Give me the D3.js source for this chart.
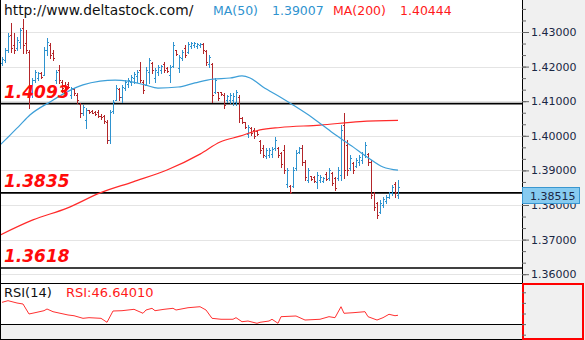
<!DOCTYPE html>
<html>
<head>
<meta charset="utf-8">
<script src="https://cdn.jsdelivr.net/npm/d3@7"></script>
<style>
  html, body { margin: 0; padding: 0; background: #fff; }
  svg { display: block; }
</style>
</head>
<body>
<svg id="chart" width="585" height="340"></svg>
<script>
// ---- Price bars (OHLC), oldest first ----
const opens = [
  1.4210,1.4219,1.4248,1.4291,1.4262,1.4254,1.4271,1.4312,1.4268,1.4242,
  1.4127,1.4161,1.4167,1.4182,1.4176,1.4248,1.4262,1.4239,1.4161,1.4190,
  1.4156,1.4147,1.4150,1.4118,1.4135,1.4118,1.4092,1.4066,1.4046,1.4075,
  1.4072,1.4069,1.4069,1.4057,1.4057,1.4040,1.3988,1.4072,1.4103,1.4135,
  1.4112,1.4138,1.4150,1.4156,1.4167,1.4173,1.4190,1.4156,1.4147,1.4184,
  1.4210,1.4167,1.4184,1.4190,1.4208,1.4196,1.4176,1.4202,1.4248,1.4196,
  1.4225,1.4254,1.4242,1.4260,1.4262,1.4260,1.4262,1.4265,1.4245,1.4208,
  1.4208,1.4127,1.4127,1.4127,1.4118,1.4103,1.4103,1.4103,1.4098,1.4112,
  1.4051,1.4040,1.4005,1.4023,1.4017,1.4014,1.3985,1.3965,1.3942,1.3945,
  1.3947,1.3965,1.3965,1.3950,1.3959,1.3861,1.3855,1.3855,1.3907,1.3953,
  1.3965,1.3924,1.3872,1.3884,1.3881,1.3867,1.3872,1.3870,1.3890,1.3878,
  1.3893,1.3878,1.3878,1.3887,1.4031,1.3973,1.3907,1.3921,1.3913,1.3924,
  1.3930,1.3945,1.3947,1.3924,1.3835,1.3806,1.3780,1.3800,1.3811,1.3823,
  1.3835,1.3861,1.3829
];
const highs = [
  1.4228,1.4254,1.4297,1.4326,1.4297,1.4286,1.4312,1.4338,1.4306,1.4248,
  1.4167,1.4190,1.4184,1.4184,1.4257,1.4283,1.4268,1.4248,1.4190,1.4205,
  1.4161,1.4156,1.4156,1.4141,1.4138,1.4124,1.4095,1.4089,1.4080,1.4075,
  1.4075,1.4072,1.4075,1.4063,1.4060,1.4046,1.4075,1.4103,1.4147,1.4138,
  1.4147,1.4161,1.4167,1.4176,1.4184,1.4190,1.4213,1.4161,1.4199,1.4225,
  1.4213,1.4196,1.4205,1.4205,1.4213,1.4199,1.4205,1.4271,1.4248,1.4234,
  1.4248,1.4262,1.4271,1.4271,1.4271,1.4268,1.4268,1.4268,1.4248,1.4234,
  1.4210,1.4167,1.4127,1.4127,1.4124,1.4118,1.4124,1.4124,1.4132,1.4118,
  1.4054,1.4040,1.4031,1.4025,1.4023,1.4017,1.3988,1.3973,1.3965,1.3965,
  1.3968,1.3997,1.3968,1.3953,1.3973,1.3907,1.3858,1.3910,1.3959,1.3968,
  1.3973,1.3930,1.3907,1.3884,1.3884,1.3895,1.3887,1.3881,1.3895,1.3907,
  1.3895,1.3881,1.3910,1.4031,1.4066,1.3988,1.3945,1.3924,1.3936,1.3945,
  1.3953,1.3982,1.3950,1.3930,1.3838,1.3809,1.3814,1.3823,1.3829,1.3838,
  1.3858,1.3867,1.3872
];
const lows = [
  1.4205,1.4213,1.4242,1.4242,1.4239,1.4248,1.4254,1.4239,1.4239,1.4080,
  1.4112,1.4156,1.4161,1.4167,1.4176,1.4234,1.4225,1.4219,1.4153,1.4153,
  1.4127,1.4127,1.4138,1.4109,1.4118,1.4095,1.4054,1.4060,1.4023,1.4066,
  1.4066,1.4060,1.4054,1.4049,1.4037,1.3979,1.3979,1.4066,1.4103,1.4103,
  1.4098,1.4132,1.4141,1.4147,1.4153,1.4156,1.4156,1.4124,1.4147,1.4153,
  1.4182,1.4156,1.4176,1.4182,1.4184,1.4184,1.4156,1.4199,1.4234,1.4184,
  1.4219,1.4228,1.4239,1.4254,1.4257,1.4254,1.4257,1.4239,1.4205,1.4199,
  1.4098,1.4124,1.4103,1.4118,1.4080,1.4098,1.4095,1.4089,1.4089,1.4040,
  1.4037,1.4023,1.3997,1.4002,1.3994,1.4002,1.3950,1.3939,1.3936,1.3939,
  1.3939,1.3959,1.3939,1.3910,1.3893,1.3852,1.3835,1.3852,1.3901,1.3950,
  1.3916,1.3872,1.3867,1.3872,1.3867,1.3849,1.3867,1.3867,1.3872,1.3872,
  1.3858,1.3843,1.3872,1.3872,1.3878,1.3887,1.3901,1.3893,1.3910,1.3916,
  1.3921,1.3939,1.3916,1.3820,1.3786,1.3762,1.3777,1.3794,1.3806,1.3820,
  1.3829,1.3823,1.3820
];
const closes = [
  1.4222,1.4248,1.4288,1.4254,1.4248,1.4277,1.4306,1.4262,1.4248,1.4127,
  1.4161,1.4184,1.4182,1.4170,1.4248,1.4271,1.4234,1.4225,1.4184,1.4161,
  1.4138,1.4132,1.4141,1.4138,1.4124,1.4103,1.4066,1.4083,1.4075,1.4069,
  1.4066,1.4063,1.4057,1.4054,1.4043,1.3988,1.4069,1.4098,1.4138,1.4112,
  1.4141,1.4156,1.4161,1.4170,1.4179,1.4184,1.4161,1.4132,1.4190,1.4219,
  1.4190,1.4190,1.4199,1.4202,1.4190,1.4187,1.4199,1.4262,1.4236,1.4228,
  1.4242,1.4234,1.4265,1.4268,1.4268,1.4265,1.4265,1.4248,1.4213,1.4228,
  1.4118,1.4161,1.4109,1.4121,1.4089,1.4115,1.4118,1.4115,1.4127,1.4051,
  1.4040,1.4025,1.4025,1.4008,1.3999,1.4005,1.3959,1.3945,1.3959,1.3959,
  1.3962,1.3988,1.3945,1.3919,1.3901,1.3901,1.3838,1.3901,1.3950,1.3965,
  1.3924,1.3881,1.3901,1.3875,1.3870,1.3887,1.3881,1.3878,1.3875,1.3901,
  1.3864,1.3849,1.3901,1.4017,1.3901,1.3901,1.3936,1.3901,1.3930,1.3939,
  1.3947,1.3973,1.3924,1.3829,1.3794,1.3771,1.3806,1.3817,1.3823,1.3835,
  1.3852,1.3838,1.38515
];

// ---- Moving averages (bar index, value) ----
const ma50Idx = [-0.7, 2.7, 6, 9.3, 16, 21.7, 27, 32.7, 37.7, 42, 47.7, 52, 58.7, 64.3, 70.3, 76, 80, 82.7, 87, 92.7, 97, 103.7, 110.3, 117, 121.7, 127, 132];
const ma50Val = [1.3973, 1.4002, 1.4031, 1.4060, 1.4098, 1.4127, 1.4147, 1.4158, 1.4161, 1.4158, 1.4147, 1.4138, 1.4141, 1.4153, 1.4164, 1.4167, 1.4173, 1.4167, 1.4141, 1.4112, 1.4089, 1.4051, 1.4008, 1.3968, 1.3939, 1.3910, 1.39007];
const ma200Idx = [-0.7, 10.3, 21.7, 32.7, 43.7, 55, 66, 72.7, 79.3, 86, 92.7, 106, 119.3, 132];
const ma200Val = [1.3713, 1.3757, 1.3791, 1.3835, 1.3867, 1.3901, 1.3947, 1.3982, 1.3999, 1.4017, 1.4024, 1.4031, 1.4041, 1.40444];

// ---- RSI(14) (bar index, value) ----
const rsiIdx = [0,2,5,7,9,11,14,15,17,19,22,24,27,29,33,35,37,40,44,47,48,50,51,54,57,58,62,66,68,70,73,77,78,80,82,85,86,89,90,92,93,98,101,106,109,111,113,114,117,121,122,125,127,129,131,132];
const rsiVal = [71.1,74.2,69.8,67.9,49.1,51.5,55.3,58.5,53.4,50.9,47.2,45.8,40.9,42.1,40.9,33.4,54.7,55.3,57.9,50.4,56.6,59.8,55.3,57.9,59.8,56.6,60.9,62.8,56.6,40.9,39.1,39.1,42.1,34.5,35.8,31.5,33.4,35.8,39.1,31.5,44.0,45.3,37.7,39.1,44.0,42.1,62.8,50.4,51.5,53.4,44.0,37.7,42.1,48.5,45.8,46.6401];

// ---- Support / resistance levels and axis ticks ----
const levels = [1.4093, 1.3835, 1.3618];
const priceTicks = [1.36, 1.37, 1.38, 1.39, 1.40, 1.41, 1.42, 1.43];
const rsiTicks = [10, 30, 50, 70, 90];
const siteLabel = "http://www.deltastock.com/";

// ---- Layout ----
const W = 585, H = 340;
const plotR = 522;              // right edge of plot / price axis line
const rsiTop = 283, rsiBot = 324, bottom = 339;

const svg = d3.select("#chart");
const font = "'DejaVu Sans', Verdana, sans-serif";

const x = d3.scaleLinear().domain([0, closes.length - 1]).range([2, 398]);
const y = d3.scaleLinear().domain([1.36, 1.43]).range([274.2, 32]);
const yRsi = d3.scaleLinear().domain([0, 100]).range([340, 287]);

const fmt5 = d3.format(".5f"), fmt4 = d3.format(".4f");
const crisp = v => Math.round(v) + 0.5;

// backgrounds
svg.append("rect").attr("width", W).attr("height", H).attr("fill", "#fff");
svg.append("rect").attr("x", plotR).attr("y", 0).attr("width", W - plotR).attr("height", H).attr("fill", "#f0f0f0");
svg.append("rect").attr("x", 0).attr("y", rsiBot).attr("width", plotR).attr("height", bottom - rsiBot).attr("fill", "#f0f0f0");

// clips for the price and RSI panels
svg.append("clipPath").attr("id", "mainClip")
  .append("rect").attr("x", 0).attr("y", 0).attr("width", plotR).attr("height", rsiTop);
svg.append("clipPath").attr("id", "rsiClip")
  .append("rect").attr("x", 0).attr("y", rsiTop).attr("width", plotR).attr("height", rsiBot - rsiTop);

const main = svg.append("g").attr("clip-path", "url(#mainClip)");

// gridlines
main.selectAll("line.grid").data(priceTicks).join("line")
  .attr("class", "grid")
  .attr("x1", 0).attr("x2", plotR)
  .attr("y1", d => crisp(y(d))).attr("y2", d => crisp(y(d)))
  .attr("stroke", "#e4e4e4").attr("stroke-width", 1);

// level lines
main.selectAll("line.level").data(levels).join("line")
  .attr("class", "level")
  .attr("x1", 0).attr("x2", plotR)
  .attr("y1", d => y(d)).attr("y2", d => y(d))
  .attr("stroke", "#000").attr("stroke-width", 1.6);

// OHLC bars
const up = "#2f93cf", down = "#b3262a";
const bars = main.append("g").attr("shape-rendering", "crispEdges");
closes.forEach((c, i) => {
  const col = c >= opens[i] ? up : down;
  const cx = Math.round(x(i));
  const yh = Math.round(y(highs[i])), yl = Math.round(y(lows[i]));
  bars.append("rect").attr("x", cx).attr("y", yh).attr("width", 1).attr("height", Math.max(1, yl - yh + 1)).attr("fill", col);
  bars.append("rect").attr("x", cx - 1).attr("y", Math.round(y(opens[i]))).attr("width", 1).attr("height", 1).attr("fill", col);
  bars.append("rect").attr("x", cx + 1).attr("y", Math.round(y(c))).attr("width", 1).attr("height", 1).attr("fill", col);
});

// moving averages
const maLine = d3.line().x(d => x(d[0])).y(d => y(d[1])).curve(d3.curveMonotoneX);
main.append("path").datum(ma200Idx.map((d, i) => [d, ma200Val[i]]))
  .attr("d", maLine).attr("fill", "none").attr("stroke", "#ff2a2a").attr("stroke-width", 1.2);
main.append("path").datum(ma50Idx.map((d, i) => [d, ma50Val[i]]))
  .attr("d", maLine).attr("fill", "none").attr("stroke", "#3d9fd8").attr("stroke-width", 1.2);

// level labels
main.selectAll("text.level").data(levels).join("text")
  .attr("class", "level")
  .attr("x", 4).attr("y", d => y(d) - 6)
  .attr("font-family", font).attr("font-size", 17).attr("font-weight", "bold").attr("font-style", "italic")
  .attr("fill", "#ff0a0a")
  .text(d => fmt4(d));

// RSI line
svg.append("g").attr("clip-path", "url(#rsiClip)")
  .append("path").datum(rsiIdx.map((d, i) => [d, rsiVal[i]]))
  .attr("d", d3.line().x(d => x(d[0])).y(d => yRsi(d[1])))
  .attr("fill", "none").attr("stroke", "#ff3030").attr("stroke-width", 1);

// frame lines
const frame = svg.append("g").attr("stroke", "#000").attr("shape-rendering", "crispEdges");
frame.append("line").attr("x1", 0.5).attr("x2", 0.5).attr("y1", 0).attr("y2", bottom + 1);
frame.append("line").attr("x1", plotR + 0.5).attr("x2", plotR + 0.5).attr("y1", 0).attr("y2", H);
[rsiTop, rsiBot, bottom].forEach(v => {
  frame.append("line").attr("x1", 0).attr("x2", plotR).attr("y1", v + 0.5).attr("y2", v + 0.5).attr("stroke-width", v === bottom ? 1 : 1.5);
});

// price axis: minor ticks every third of a grid step
const minorTicks = d3.range(-1, 25).map(k => 1.36 + k * 0.01 / 3).filter(v => y(v) > 2 && y(v) < rsiTop - 2);
const minor = d3.axisRight(y).tickValues(minorTicks).tickSize(4).tickFormat("");
const major = d3.axisRight(y).tickValues(priceTicks).tickSize(7).tickPadding(2).tickFormat(fmt5);
const gMinor = svg.append("g").attr("transform", `translate(${plotR},0)`).call(minor);
const gMajor = svg.append("g").attr("transform", `translate(${plotR},0)`).call(major);
[gMinor, gMajor].forEach(g => {
  g.select(".domain").remove();
  g.selectAll(".tick line").attr("stroke", "#666");
});
gMajor.selectAll(".tick text")
  .attr("font-family", font).attr("font-size", 11).attr("fill", "#1a2744");

// RSI scale box
svg.append("rect").attr("x", plotR + 1).attr("y", rsiTop + 1).attr("width", W - plotR - 3).attr("height", bottom - rsiTop - 1)
  .attr("fill", "#f0f0f0").attr("stroke", "#ff0000").attr("stroke-width", 2);
svg.append("g").attr("transform", `translate(${plotR},0)`)
  .call(d3.axisRight(yRsi).tickValues(rsiTicks).tickSize(4).tickFormat(""))
  .call(g => g.select(".domain").remove())
  .selectAll(".tick line").attr("stroke", "#666");

// last price tag
const last = closes[closes.length - 1];
const tagY = Math.round(y(last));
svg.append("rect").attr("x", plotR + 0.5).attr("y", tagY + 0.5).attr("width", 57).attr("height", 16)
  .attr("fill", "#87cbf0").attr("stroke", "#3a97d0");
svg.append("text").attr("x", plotR + 8).attr("y", tagY + 13)
  .attr("font-family", font).attr("font-size", 11).attr("fill", "#1a2744")
  .text(fmt5(last));

// header
svg.append("text").attr("x", 4).attr("y", 15)
  .attr("font-family", font).attr("font-size", 13.8).attr("fill", "#111")
  .text(siteLabel);
const legend = [
  { t: "MA(50)", x: 213, c: "#2f93cf" },
  { t: fmt5(ma50Val[ma50Val.length - 1]), x: 272, c: "#2f93cf" },
  { t: "MA(200)", x: 333, c: "#ff1a1a" },
  { t: fmt5(ma200Val[ma200Val.length - 1]), x: 400, c: "#ff1a1a" }
];
svg.selectAll("text.legend").data(legend).join("text")
  .attr("class", "legend").attr("x", d => d.x).attr("y", 15)
  .attr("font-family", font).attr("font-size", 12.5).attr("fill", d => d.c)
  .text(d => d.t);

// RSI header
svg.append("text").attr("x", 4).attr("y", 297)
  .attr("font-family", font).attr("font-size", 13).attr("fill", "#111").text("RSI(14)");
svg.append("text").attr("x", 66).attr("y", 297)
  .attr("font-family", font).attr("font-size", 13).attr("fill", "#ff1a1a")
  .text("RSI:" + fmt5(rsiVal[rsiVal.length - 1]));
</script>
</body>
</html>
